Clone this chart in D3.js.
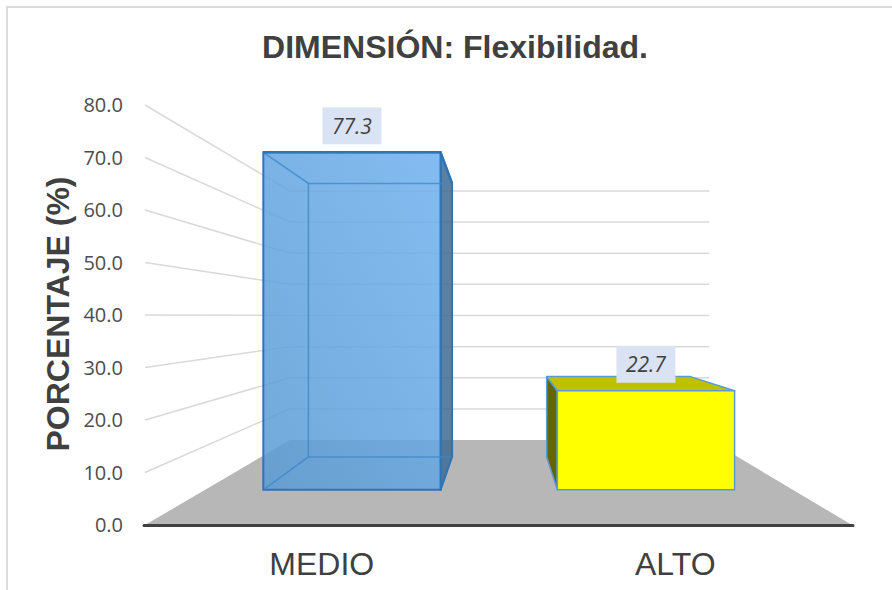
<!DOCTYPE html>
<html>
<head>
<meta charset="utf-8">
<script src="https://cdn.jsdelivr.net/npm/d3@7"></script>
<style>
  html, body { margin: 0; padding: 0; background: #fff; }
  svg { display: block; }
</style>
</head>
<body>
<svg id="chart" width="892" height="590"></svg>
<script>
// ---- data ----
const categories = ["MEDIO", "ALTO"];
const values = [77.3, 22.7];
const yTicks = [0, 10, 20, 30, 40, 50, 60, 70, 80];
const chartTitle = "DIMENSIÓN: Flexibilidad.";
const yTitle = "PORCENTAJE (%)";

// ---- layout / styles ----
const W = 892, H = 590;
const svg = d3.select("#chart");
const styles = {
  MEDIO: { front: "#5b9bd5", frontLight: "#6fb1ee", side: "#3f6b93", stroke: "#2e75b6", opacity: 0.86, translucent: true },
  ALTO:  { front: "#ffff00", frontLight: "#ffff00", side: "#666600", top: "#c0c000", stroke: "#5b9bd5", opacity: 1, translucent: false }
};

const x = d3.scaleBand().domain(categories).range([145, 852]).paddingInner(0.397).paddingOuter(0.1985);
const y = d3.scaleLinear().domain([0, 80]).range([525, 105]);

// perspective
const V = [501.2, 316.2];
const k = 0.686;
const sc = d => 1 / (1 + k * d);
function proj(X, Y, d) {
  const s = sc(d);
  return [V[0] + s * (X - V[0]), V[1] + s * (Y - V[1])];
}
const d1 = 0.295, d2 = 0.705;
const xL = x.range()[0], xR = x.range()[1];

// frame
svg.append("rect").attr("x", 7).attr("y", 7).attr("width", W + 20).attr("height", H + 20)
  .attr("fill", "#fff").attr("stroke", "#d0d0d0").attr("stroke-width", 1.5);

// defs gradient
const defs = svg.append("defs");
const g1 = defs.append("linearGradient").attr("id", "gMedio").attr("x1", "0").attr("y1", "1").attr("x2", "1").attr("y2", "0");
g1.append("stop").attr("offset", "0%").attr("stop-color", styles.MEDIO.front);
g1.append("stop").attr("offset", "100%").attr("stop-color", styles.MEDIO.frontLight);

// gridlines
const grid = svg.append("g").attr("stroke", "#d9d9d9").attr("stroke-width", 1.5).attr("fill", "none");
yTicks.filter(t => t > 0).forEach(t => {
  const a = proj(xL, y(t), 0), b = proj(xL, y(t), 1), c = proj(xR, y(t), 1);
  grid.append("path").attr("d", `M${a}L${b}L${c}`);
});

// floor
const floorPts = [proj(xL, y(0), 0), proj(xR, y(0), 0), proj(xR, y(0), 1), proj(xL, y(0), 1)];
svg.append("path").attr("d", "M" + floorPts.join("L") + "Z").attr("fill", "#b7b7b7");

// axis line
svg.append("line").attr("x1", xL - 1).attr("x2", xR + 1).attr("y1", y(0) + 0.5).attr("y2", y(0) + 0.5)
  .attr("stroke", "#404040").attr("stroke-width", 3).attr("stroke-linecap", "round");

// y tick labels
svg.append("g").selectAll("text").data(yTicks).join("text")
  .attr("x", 123).attr("y", d => y(d) + 2)
  .attr("text-anchor", "end").attr("dominant-baseline", "middle")
  .attr("font-family", "'Open Sans', sans-serif").attr("font-size", 20).attr("fill", "#4d4d4d")
  .text(d => d.toFixed(1));

// bars
const poly = pts => "M" + pts.map(p => p.join(",")).join("L") + "Z";
categories.forEach((cat, i) => {
  const st = styles[cat];
  const x0 = x(cat), x1 = x0 + x.bandwidth();
  const yt = y(values[i]), yb = y(0);
  const g = svg.append("g");
  const F = [proj(x0, yt, d1), proj(x1, yt, d1), proj(x1, yb, d1), proj(x0, yb, d1)];
  const B = [proj(x0, yt, d2), proj(x1, yt, d2), proj(x1, yb, d2), proj(x0, yb, d2)];
  const centerX = (x0 + x1) / 2;
  let side;
  if (centerX < V[0]) side = [F[1], B[1], B[2], F[2]];
  else side = [F[0], B[0], B[3], F[3]];
  const topVisible = yt > V[1];
  if (st.translucent) {
    g.append("path").attr("d", poly(side)).attr("fill", st.side).attr("fill-opacity", st.opacity)
      .attr("stroke", st.stroke).attr("stroke-width", 2).attr("stroke-linejoin", "round");
    g.append("path").attr("d", poly(F)).attr("fill", "url(#gMedio)").attr("fill-opacity", st.opacity)
      .attr("stroke", st.stroke).attr("stroke-width", 2);
    const inner = g.append("g").attr("stroke", "#3d86c8").attr("stroke-width", 1.5).attr("stroke-opacity", 0.75).attr("fill", "none");
    inner.append("path").attr("d", `M${F[0]}L${B[0]}L${B[1]}`);
    inner.append("path").attr("d", `M${B[0]}L${B[3]}L${B[2]}`);
    inner.append("path").attr("d", `M${F[3]}L${B[3]}`);
    g.append("path").attr("d", `M${F[0]}L${F[1]}L${B[1]}`).attr("stroke", st.stroke).attr("stroke-width", 2.5).attr("fill", "none").attr("stroke-linejoin", "round");
  } else {
    g.append("path").attr("d", poly(side)).attr("fill", st.side).attr("stroke", st.stroke).attr("stroke-width", 1.5).attr("stroke-linejoin", "round");
    if (topVisible) {
      g.append("path").attr("d", poly([F[0], B[0], B[1], F[1]])).attr("fill", st.top).attr("stroke", st.stroke).attr("stroke-width", 1.5).attr("stroke-linejoin", "round");
    }
    g.append("path").attr("d", poly(F)).attr("fill", st.front).attr("stroke", st.stroke).attr("stroke-width", 1.5);
  }
  // data label
  const lx = (F[0][0] + F[1][0]) / 2;
  const lyBottom = F[0][1] - 8;
  const lg = svg.append("g");
  const rect = lg.append("rect").attr("fill", "#dae3f3");
  const t = lg.append("text").attr("x", lx).attr("y", lyBottom - 18.5)
    .attr("text-anchor", "middle").attr("dominant-baseline", "central")
    .attr("font-family", "'Open Sans', sans-serif").attr("font-style", "italic").attr("font-size", 21).attr("fill", "#404040")
    .text(values[i].toFixed(1));
  const tw = t.node().getComputedTextLength();
  rect.attr("x", lx - tw / 2 - 9.5).attr("width", tw + 19).attr("y", lyBottom - 37).attr("height", 37);
});

// category labels
svg.append("g").selectAll("text").data(categories).join("text")
  .attr("x", d => x(d) + x.bandwidth() / 2).attr("y", 575)
  .attr("text-anchor", "middle")
  .attr("font-family", "'Liberation Sans', Arial, sans-serif").attr("font-size", 32).attr("fill", "#404040")
  .text(d => d);

// title
svg.append("text").attr("x", 455).attr("y", 58).attr("text-anchor", "middle")
  .attr("font-family", "'Liberation Sans', Arial, sans-serif").attr("font-weight", "bold").attr("font-size", 32).attr("fill", "#404040")
  .text(chartTitle);

// y axis title
svg.append("text").attr("transform", "translate(68.5,314) rotate(-90)").attr("text-anchor", "middle")
  .attr("font-family", "'Liberation Sans', Arial, sans-serif").attr("font-weight", "bold").attr("font-size", 32).attr("fill", "#404040")
  .text(yTitle);
</script>
</body>
</html>
